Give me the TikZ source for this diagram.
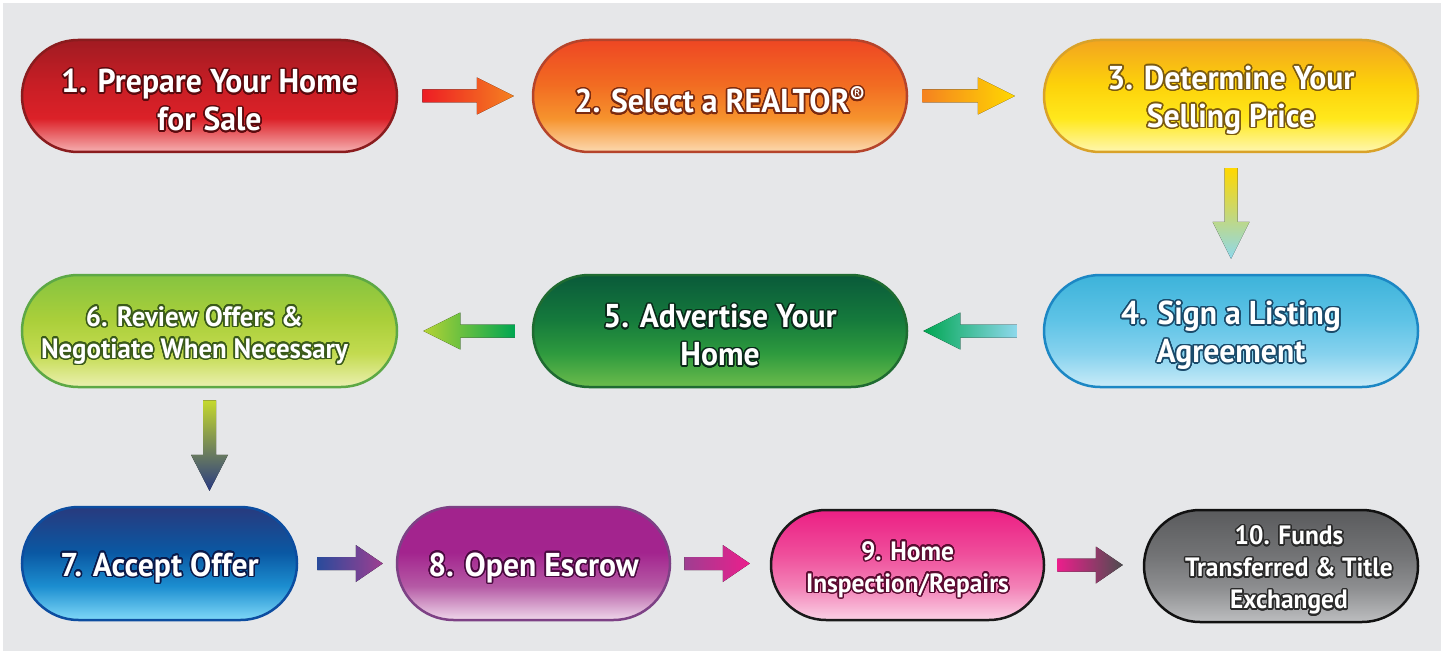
\documentclass[tikz,border=0pt]{standalone}
\usepackage{fontspec}
\setmainfont{PT Sans}[FakeStretch=0.96]
\usepackage{contour}
\contourlength{1.5pt}
\contournumber{24}
\usetikzlibrary{shapes.misc,calc}

\definecolor{bg}{HTML}{E6E7E9}
% node colours: top, mid, lowmid, bottom, border, glow
\definecolor{t1}{HTML}{A11B22}\definecolor{m1}{HTML}{C81E25}\definecolor{l1}{HTML}{DC2128}\definecolor{b1}{HTML}{F6B0B1}\definecolor{d1}{HTML}{8A1C1E}\definecolor{g1}{HTML}{5A0A0E}
\definecolor{t2}{HTML}{EE4723}\definecolor{m2}{HTML}{F26C22}\definecolor{l2}{HTML}{F6932D}\definecolor{b2}{HTML}{FCD9B0}\definecolor{d2}{HTML}{B5442B}\definecolor{g2}{HTML}{7A2A10}
\definecolor{t3}{HTML}{F3A51F}\definecolor{m3}{HTML}{FDD20A}\definecolor{l3}{HTML}{FFE81C}\definecolor{b3}{HTML}{FFF7B0}\definecolor{d3}{HTML}{D9A229}\definecolor{g3}{HTML}{7A5A10}
\definecolor{t4}{HTML}{3DB3DA}\definecolor{m4}{HTML}{5EC3E6}\definecolor{l4}{HTML}{86D2EE}\definecolor{b4}{HTML}{C9EBF8}\definecolor{d4}{HTML}{1C87C4}\definecolor{g4}{HTML}{1A4A6A}
\definecolor{t5}{HTML}{0A5A3A}\definecolor{m5}{HTML}{157A3C}\definecolor{l5}{HTML}{2E9A3E}\definecolor{b5}{HTML}{6CBC4C}\definecolor{d5}{HTML}{1F6B31}\definecolor{g5}{HTML}{0A2A1A}
\definecolor{t6}{HTML}{86C440}\definecolor{m6}{HTML}{AACF3A}\definecolor{l6}{HTML}{C3DB50}\definecolor{b6}{HTML}{EBF0B0}\definecolor{d6}{HTML}{5DA845}\definecolor{g6}{HTML}{3A5A1A}
\definecolor{t7}{HTML}{283A7E}\definecolor{m7}{HTML}{0A58A3}\definecolor{l7}{HTML}{1C8ED0}\definecolor{b7}{HTML}{7FD8F8}\definecolor{d7}{HTML}{0C4DA0}\definecolor{g7}{HTML}{0A1A4A}
\definecolor{t8}{HTML}{A2238D}\definecolor{m8}{HTML}{A3248E}\definecolor{l8}{HTML}{B55AA5}\definecolor{b8}{HTML}{EFD7EA}\definecolor{d8}{HTML}{7D4185}\definecolor{g8}{HTML}{4A0A40}
\definecolor{t9}{HTML}{EC1F84}\definecolor{m9}{HTML}{EF4E9B}\definecolor{l9}{HTML}{F382B7}\definecolor{b9}{HTML}{FAD1E5}\definecolor{d9}{HTML}{1A1A1A}\definecolor{g9}{HTML}{5A0A30}
\definecolor{t10}{HTML}{5A5B5D}\definecolor{m10}{HTML}{727375}\definecolor{l10}{HTML}{8E8F91}\definecolor{b10}{HTML}{BDBEC0}\definecolor{d10}{HTML}{111111}\definecolor{g10}{HTML}{2A2A2A}
% arrow colours
\definecolor{aRed}{HTML}{ED1C24}\definecolor{aOrange}{HTML}{F58220}\definecolor{aYellow}{HTML}{FFD800}
\definecolor{aLBlue}{HTML}{8ED8EC}\definecolor{aGreen}{HTML}{00A651}\definecolor{aLGreen}{HTML}{B5D334}
\definecolor{aYG}{HTML}{C5D92D}\definecolor{aMid}{HTML}{7E8F6A}\definecolor{aDBlue}{HTML}{293A82}\definecolor{aBlue}{HTML}{2A4B9B}
\definecolor{aPurple}{HTML}{9E3E91}\definecolor{aMag}{HTML}{EC1E8C}\definecolor{aGray}{HTML}{4D4D4F}

\newcommand\pillshading[5]{\pgfdeclareverticalshading{#1}{100bp}{color(0bp)=(#5); color(25bp)=(#5); color(40bp)=(#4); color(55bp)=(#3); color(75bp)=(#2); color(100bp)=(#2)}}
\pillshading{sh1}{t1}{m1}{l1}{b1}
\pillshading{sh2}{t2}{m2}{l2}{b2}
\pillshading{sh3}{t3}{m3}{l3}{b3}
\pillshading{sh4}{t4}{m4}{l4}{b4}
\pillshading{sh5}{t5}{m5}{l5}{b5}
\pillshading{sh6}{t6}{m6}{l6}{b6}
\pillshading{sh7}{t7}{m7}{l7}{b7}
\pillshading{sh8}{t8}{m8}{l8}{b8}
\pillshading{sh9}{t9}{m9}{l9}{b9}
\pillshading{sh10}{t10}{m10}{l10}{b10}

% one line of glowing text, lowered a little while keeping its box
\newcommand\gl[2]{\raisebox{-5pt}[\height][\depth]{\contour{#1}{#2}}}

% tail, tip, head length, shading options
\newcommand\flowarrow[4]{%
  \coordinate (hb) at ($(#2)!#3!(#1)$);
  \fill[#4] ($(#1)!6.5pt!90:(#2)$) -- ($(hb)!6.5pt!-90:(#1)$) -- ($(hb)!18.5pt!-90:(#1)$)
    -- (#2) -- ($(hb)!18.5pt!90:(#1)$) -- ($(hb)!6.5pt!90:(#1)$) -- ($(#1)!6.5pt!-90:(#2)$) -- cycle;}

\begin{document}
\begin{tikzpicture}[x=1pt,y=-1pt,
  pill/.style={rounded rectangle, minimum height=112pt, inner sep=0pt,
    line width=2.5pt, align=center, text=white, shade,
    font=\bfseries\fontsize{33}{38}\selectfont},
  smalltxt/.style={font=\bfseries\fontsize{26.5}{32}\selectfont}]
\useasboundingbox (0,0) rectangle (1445,655);
\fill[white] (0,0) rectangle (1445,655);
\fill[bg] (3,3) rectangle (1441,651);

\node[pill, shading=sh1, draw=d1, minimum width=375pt] (n1) at (209.5,96)
  {\gl{g1}{1. Prepare Your Home}\\\gl{g1}{for Sale}};
\node[pill, shading=sh2, draw=d2, minimum width=374pt] (n2) at (720,96)
  {\gl{g2}{2. Select a REALTOR\textsuperscript{®}}};
\node[pill, shading=sh3, draw=d3, minimum width=374pt] (n3) at (1231,96)
  {\gl{g3}{3. Determine Your}\\\gl{g3}{Selling Price}};
\node[pill, shading=sh4, draw=d4, minimum width=374pt] (n4) at (1231,331)
  {\gl{g4}{4. Sign a Listing}\\\gl{g4}{Agreement}};
\node[pill, shading=sh5, draw=d5, minimum width=374pt] (n5) at (720,331)
  {\gl{g5}{5. Advertise Your}\\\gl{g5}{Home}};
\node[pill, shading=sh6, draw=d6, minimum width=375pt, font=\bfseries\fontsize{28}{32}\selectfont] (n6) at (209.5,331)
  {\gl{g6}{6. Review Offers \&\kern30pt}\\\gl{g6}{Negotiate When Necessary\kern30pt}};
\node[pill, shading=sh7, draw=d7, minimum width=275pt, minimum height=113pt] (n7) at (159.5,563.5)
  {\gl{g7}{7. Accept Offer}};
\node[pill, shading=sh8, draw=d8, minimum width=273pt, minimum height=113pt] (n8) at (533.5,563.5)
  {\gl{g8}{8. Open Escrow}};
\node[pill, smalltxt, shading=sh9, draw=d9, minimum width=273pt, minimum height=110pt] (n9) at (907.5,565)
  {\gl{g9}{9. Home}\\\gl{g9}{Inspection/Repairs}};
\node[pill, smalltxt, shading=sh10, draw=d10, minimum width=274pt, minimum height=112pt] (n10) at (1281,566)
  {\gl{g10}{\kern16pt 10. Funds}\\\gl{g10}{\kern16pt Transferred \& Title}\\\gl{g10}{\kern16pt Exchanged}};

\coordinate (a12t) at ($(n1.east)+(24,0)$);   \coordinate (a12h) at ($(n2.west)+(-18,0)$);
\coordinate (a23t) at ($(n2.east)+(14,0)$);   \coordinate (a23h) at ($(n3.west)+(-28,0)$);
\coordinate (a34t) at ($(n3.south)+(0,15)$);  \coordinate (a34h) at ($(n4.north)+(0,-15)$);
\coordinate (a45t) at ($(n4.west)+(-26,0)$);  \coordinate (a45h) at ($(n5.east)+(15,0)$);
\coordinate (a56t) at ($(n5.west)+(-17,0)$);  \coordinate (a56h) at ($(n6.east)+(25,0)$);
\coordinate (a67t) at ($(n6.south)+(0,12)$);  \coordinate (a67h) at ($(n6.south |- n7.north)+(0,-15)$);
\coordinate (a78t) at ($(n7.east)+(19,0)$);   \coordinate (a78h) at ($(n8.west)+(-13,0)$);
\coordinate (a89t) at ($(n8.east)+(13,0)$);   \coordinate (a89h) at ($(n9.west |- n8.west)+(-20,0)$);
\coordinate (a910t) at ($(n9.east)+(12,0)$);  \coordinate (a910h) at ($(n10.west |- n9.east)+(-20,0)$);

\flowarrow{a12t}{a12h}{37pt}{left color=aRed, right color=aOrange}
\flowarrow{a23t}{a23h}{37pt}{left color=aOrange, right color=aYellow}
\flowarrow{a34t}{a34h}{37pt}{top color=aYellow, bottom color=aLBlue}
\flowarrow{a45t}{a45h}{37pt}{left color=aGreen, right color=aLBlue}
\flowarrow{a56t}{a56h}{37pt}{left color=aLGreen, right color=aGreen}
\flowarrow{a67t}{a67h}{36pt}{top color=aYG, middle color=aMid, bottom color=aDBlue}
\flowarrow{a78t}{a78h}{27pt}{left color=aBlue, right color=aPurple}
\flowarrow{a89t}{a89h}{27pt}{left color=aPurple, right color=aMag}
\flowarrow{a910t}{a910h}{27pt}{left color=aMag, right color=aGray}
\end{tikzpicture}
\end{document}
